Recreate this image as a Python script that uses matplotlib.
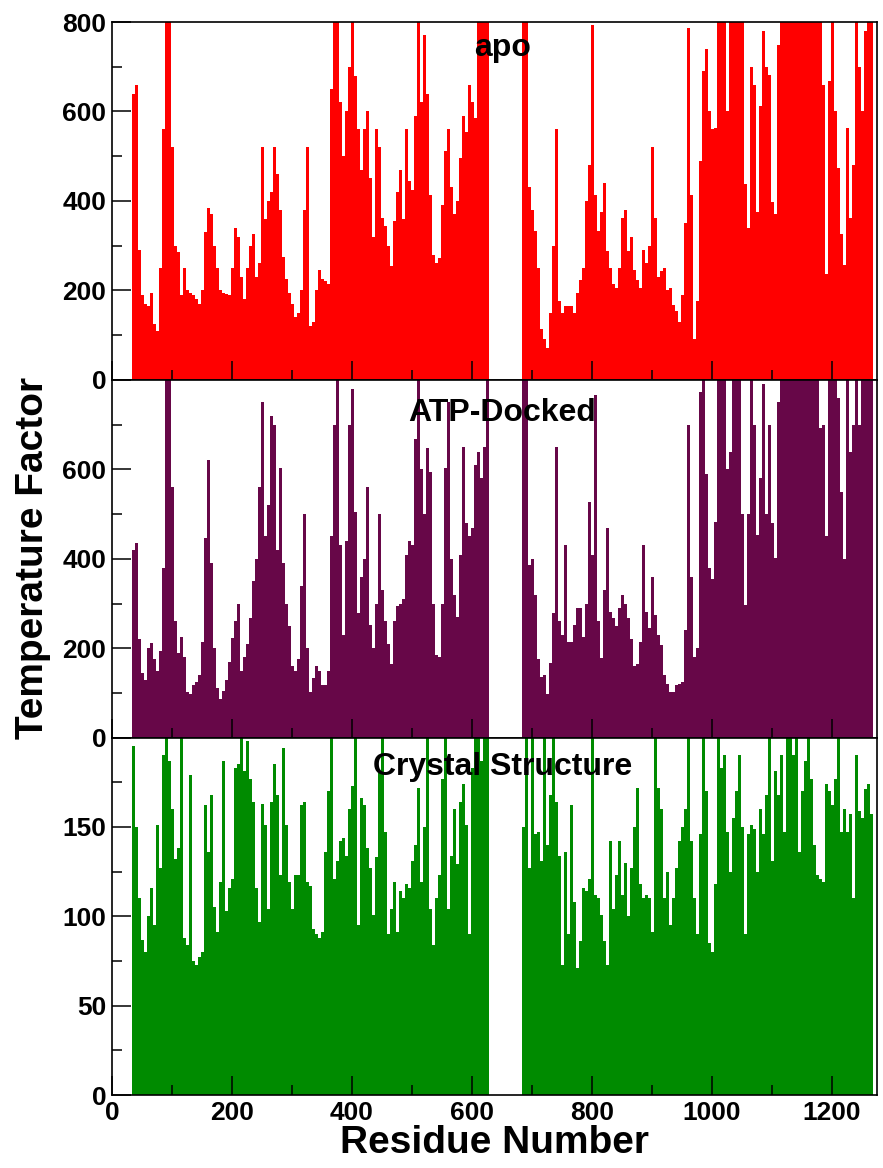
import matplotlib
matplotlib.use("Agg")
import matplotlib.pyplot as plt
import numpy as np

# residue bins (5 residues each), two resolved segments with a gap 628-682
res_a = list(range(35, 630, 5))
res_b = list(range(685, 1270, 5))

apo_a = [640, 660, 290, 190, 170, 165, 195, 125, 110, 250, 560, 850, 850, 520, 300, 285,
         190, 250, 200, 195, 190, 180, 170, 200, 330, 385, 370, 300, 250, 200, 195, 192,
         190, 250, 340, 320, 230, 180, 250, 300, 325, 230, 260, 520, 360, 400, 420, 520,
         460, 380, 275, 225, 195, 170, 140, 150, 200, 380, 520, 120, 130, 200, 245, 225,
         220, 215, 650, 850, 850, 620, 500, 600, 700, 850, 680, 560, 470, 560, 600,
         450, 320, 560, 520, 362, 343, 300, 255, 355, 420, 470, 360, 560, 444, 425, 589,
         850, 620, 770, 640, 414, 280, 260, 273, 390, 511, 560, 430, 370, 400, 496, 590,
         555, 660, 620, 585, 850, 850, 850, 850]
apo_b = [850, 850, 430, 380, 332, 250, 114, 90, 71, 150, 300, 560, 175, 150, 165, 165,
         165, 150, 195, 222, 250, 400, 480, 794, 414, 332, 375, 440, 288, 250, 215, 205,
         250, 362, 380,
         288, 320, 245, 222, 206, 290, 260, 300, 520, 362, 230, 242, 250, 200, 206, 168,
         153, 130, 190, 350, 787, 414, 90, 175, 489, 690, 740, 600, 560, 563, 850, 850,
         850, 600, 850, 850, 850, 850, 850, 437, 340, 700, 660, 375, 612, 780, 700, 682,
         397, 370, 749, 850, 850, 850, 850, 850, 850, 850, 850, 850, 850, 850, 850, 850,
         850, 660, 236, 669, 850, 600, 474, 325, 256, 563, 362, 480, 850, 700, 600, 780,
         850, 850]

atp_a = [420, 436, 220, 145, 128, 200, 212, 175, 150, 194, 380, 850, 850, 560, 260, 190,
         225, 180, 103, 98, 118, 125, 140, 215, 446, 620, 390, 200, 111, 86, 105, 130,
         170, 222, 260, 300, 150, 180, 210, 267, 350, 400, 560, 750, 450, 520, 720, 700,
         420, 603, 390, 300, 250, 160, 150, 175, 340, 500, 200, 103, 133, 160, 150, 118,
         118, 150, 450, 700, 850, 432, 230, 440, 700, 780, 505, 280, 360, 400, 560,
         253, 200, 300, 500, 330, 260, 210, 165, 260, 295, 300, 310, 409, 440, 432, 669,
         850, 600, 500, 647, 595, 300, 185, 180, 300, 603, 750, 400, 320, 270, 409, 650,
         480, 450, 470, 610, 640, 580, 650, 850]
atp_b = [850, 850, 386, 400, 319, 175, 135, 140, 98, 166, 280, 650, 260, 230, 432, 215,
         215, 253, 290, 290, 225, 300, 528, 409, 766, 260, 178, 330, 468, 282, 267, 250,
         290, 320, 300,
         267, 220, 160, 165, 215, 430, 282, 245, 360, 275, 230, 207, 140, 120, 103, 103,
         118, 121, 125, 240, 700, 360, 180, 200, 774, 850, 590, 380, 356, 483, 850, 850,
         850, 600, 640, 850, 850, 850, 500, 296, 500, 850, 700, 453, 581, 790, 500, 700,
         480, 401, 750, 850, 850, 850, 850, 850, 850, 850, 850, 850, 850, 850, 850, 850,
         692, 700, 450, 850, 850, 850, 760, 550, 400, 850, 640, 700, 850, 700, 850, 850,
         850, 850]

xtal_a = [195, 150, 110, 87, 80, 100, 116, 95, 151, 127, 190, 200, 187, 160, 132, 138,
          200, 88, 84, 179, 75, 73, 77, 80, 162, 136, 168, 105, 91, 119, 187, 103,
          116, 121, 183, 185, 200, 181, 198, 177, 164, 116, 97, 163, 151, 104, 164, 185,
          168, 123, 194, 151, 119, 104, 123, 123, 162, 164, 119, 117, 93, 90, 88, 91,
          136, 170, 200, 121, 131, 142, 144, 134, 160, 173, 200, 95, 166, 162, 138,
          127, 101, 133, 180, 200, 147, 90, 104, 119, 91, 114, 110, 118, 116, 131, 140,
          172, 119, 150, 200, 104, 84, 110, 123, 177, 200, 104, 134, 160, 129, 164, 174,
          151, 90, 183, 200, 200, 187, 200, 200]
xtal_b = [150, 200, 127, 200, 146, 147, 131, 200, 140, 168, 200, 164, 134, 73, 136, 90,
          162, 108, 71, 86, 116, 114, 121, 200, 112, 110, 101, 86, 73, 142, 104, 123,
          142, 112, 130,
          100, 127, 150, 172, 118, 110, 112, 110, 91, 200, 172, 160, 110, 125, 95, 110,
          127, 142, 150, 160, 200, 142, 110, 90, 146, 200, 170, 85, 80, 118, 200, 183,
          190, 147, 125, 155, 170, 190, 150, 90, 146, 151, 149, 125, 160, 146, 168, 200,
          131, 181, 168, 190, 147, 200, 200, 190, 200, 136, 170, 187, 200, 177, 140, 123,
          121, 119, 174, 170, 162, 177, 200, 147, 160, 147, 157, 110, 190, 159, 155, 171,
          174, 157]

panels = [
    ("apo", apo_a, apo_b, "#ff0000", 800, 200, 100, [0, 200, 400, 600, 800], 0.905),
    ("ATP-Docked", atp_a, atp_b, "#670748", 800, 200, 100, [0, 200, 400, 600], 0.886),
    ("Crystal Structure", xtal_a, xtal_b, "#008b00", 200, 50, 25, [0, 50, 100, 150], 0.895),
]

plt.rcParams['font.family'] = ['Liberation Sans', 'DejaVu Sans']
plt.rcParams['font.weight'] = 'bold'

fig = plt.figure(figsize=(8.83, 11.68), dpi=100)
left, width = 112 / 883, 765 / 883
tops = [22, 380, 737.5]
h = 357.7

for i, (title, va, vb, col, ymax, major, minor, labs, ty) in enumerate(panels):
    bottom = 1 - (tops[i] + h) / 1168
    ax = fig.add_axes([left, bottom, width, h / 1168])
    ax.bar(res_a, va, width=5, color=col, linewidth=0, zorder=1)
    ax.bar(res_b, vb, width=5, color=col, linewidth=0, zorder=1)
    ax.set_xlim(0, 1275)
    ax.set_ylim(0, ymax)
    ax.set_xticks(np.arange(0, 1275, 200))
    ax.set_xticks(np.arange(100, 1275, 200), minor=True)
    ax.set_yticks(np.arange(0, ymax + 1, major))
    ax.set_yticks(np.arange(minor, ymax, major), minor=True)
    ax.set_yticklabels([str(v) if v in labs else "" for v in np.arange(0, ymax + 1, major)])
    ax.tick_params(which='both', direction='in', top=False, right=False,
                   width=1.1, labelsize=19, pad=4, zorder=5)
    ax.tick_params(which='major', length=13.5)
    ax.tick_params(which='minor', length=7)
    for s in ax.spines.values():
        s.set_linewidth(1.2)
        s.set_zorder(6)
    if i < 2:
        ax.set_xticklabels([])
    else:
        ax.set_xlabel("Residue Number", fontsize=28, fontweight='bold', labelpad=0)
    ax.text(0.51, ty, title, transform=ax.transAxes, ha='center', va='baseline',
            fontsize=23, fontweight='bold', zorder=7)

fig.text(33 / 883, 1 - 558 / 1168, "Temperature Factor", rotation=90, ha='center',
         va='center', fontsize=28, fontweight='bold')

fig.savefig("out.png", dpi=100)
